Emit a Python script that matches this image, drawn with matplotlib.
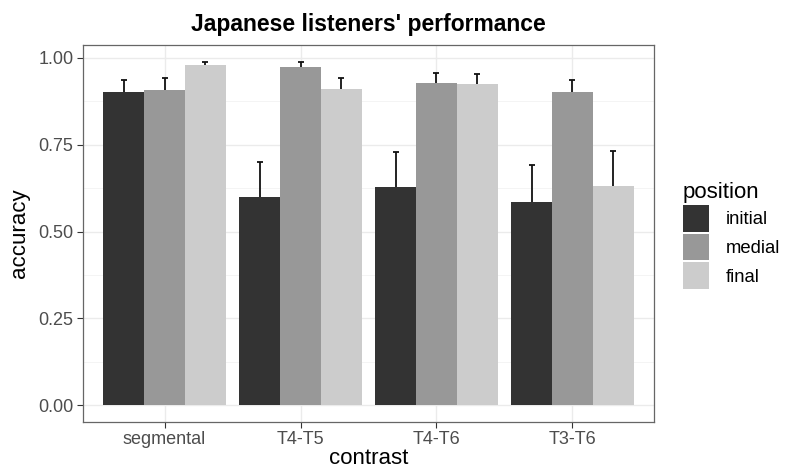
import matplotlib
matplotlib.use("Agg")
import matplotlib.pyplot as plt
from matplotlib.patches import Patch
import numpy as np

plt.rcParams['font.family'] = ['Liberation Sans', 'DejaVu Sans']

contrasts = ["segmental", "T4-T5", "T4-T6", "T3-T6"]
positions = ["initial", "medial", "final"]
fills = ["#333333", "#989898", "#CCCCCC"]

# mean accuracy per contrast, one list per position
acc_initial = [0.900, 0.600, 0.628, 0.585]
acc_medial = [0.906, 0.974, 0.928, 0.900]
acc_final = [0.978, 0.910, 0.924, 0.632]

# standard error per contrast, one list per position
se_initial = [0.037, 0.101, 0.100, 0.107]
se_medial = [0.035, 0.014, 0.028, 0.037]
se_final = [0.010, 0.033, 0.029, 0.100]

yticks = [0.00, 0.25, 0.50, 0.75, 1.00]
ytick_labels = ["0.00", "0.25", "0.50", "0.75", "1.00"]

means = [acc_initial, acc_medial, acc_final]
errs = [se_initial, se_medial, se_final]

fig = plt.figure(figsize=(7.85, 4.7), dpi=100)
ax = fig.add_axes([83 / 785, 1 - 421.7 / 470, (654 - 83) / 785, (421.7 - 45) / 470])

x = np.arange(len(contrasts)) + 1
bar_w = 0.3
cap_half = 0.022

# grid
for yv in yticks:
    ax.axhline(yv, color="#EBEBEB", lw=1.0, zorder=0)
for yv in np.arange(0.125, 1.0, 0.25):
    ax.axhline(yv, color="#F2F2F2", lw=0.6, zorder=0)
for xv in x:
    ax.axvline(xv, color="#EBEBEB", lw=1.0, zorder=0)

for i, (m, e, c) in enumerate(zip(means, errs, fills)):
    xs = x + (i - 1) * bar_w
    m = np.asarray(m)
    e = np.asarray(e)
    ax.bar(xs, m, width=bar_w, color=c, edgecolor="none", zorder=2)
    top = m + e
    ax.vlines(xs, m, top, color="#111111", lw=1.3, zorder=3)
    ax.hlines(top, xs - cap_half, xs + cap_half, color="#111111", lw=1.3, zorder=3)

ax.set_xlim(0.4, 4.6)
ax.set_ylim(-0.047, 1.0366)
ax.set_xticks(x)
ax.set_xticklabels(contrasts)
ax.set_yticks(yticks)
ax.set_yticklabels(ytick_labels)
ax.tick_params(axis="both", length=4, width=0.8, color="#333333",
               labelsize=13, labelcolor="#4D4D4D", pad=3)
for s in ax.spines.values():
    s.set_color("#666666")
    s.set_linewidth(0.9)

ax.set_xlabel("contrast", fontsize=16, labelpad=0)
ax.set_ylabel("accuracy", fontsize=16, labelpad=6)
ax.set_title("Japanese listeners' performance", fontsize=16.5, fontweight="bold", pad=10)

handles = [Patch(facecolor=c, edgecolor="none") for c in fills]
leg = fig.legend(handles, positions, loc="upper left",
                 bbox_to_anchor=(683 / 785, 1 - 182 / 470),
                 frameon=False, fontsize=13.3, title="position", title_fontsize=16,
                 handlelength=1.42, handleheight=1.82, labelspacing=0.12,
                 handletextpad=0.92, borderpad=0, borderaxespad=0, alignment="left")

fig.savefig("out.png", dpi=100)
